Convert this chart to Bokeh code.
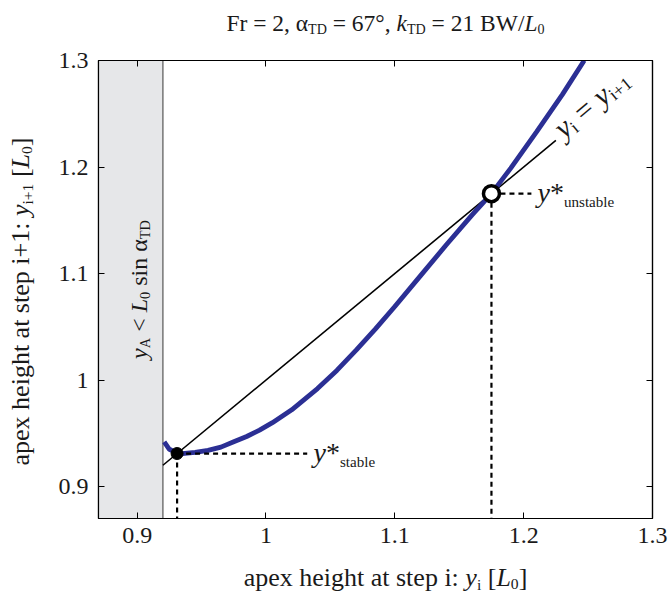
import math
from bokeh.plotting import figure
from bokeh.layouts import row, column
from bokeh.models import Range1d, Label, LinearAxis, FixedTicker
from bokeh.embed import file_html
from bokeh.resources import INLINE

# ---------------- data ----------------
tick_values = [0.9, 1.0, 1.1, 1.2, 1.3]
tick_labels = ["0.9", "1", "1.1", "1.2", "1.3"]

# return map y_{i+1} = f(y_i)
map_x = [0.921, 0.925, 0.930, 0.935, 0.945, 0.955, 0.965, 0.975, 0.985, 0.995,
         1.005, 1.020, 1.040, 1.055, 1.070, 1.085, 1.100, 1.120, 1.140,
         1.160, 1.175, 1.190, 1.210, 1.230, 1.247]
map_y = [0.942, 0.935, 0.932, 0.931, 0.932, 0.934, 0.937, 0.942, 0.947, 0.953,
         0.960, 0.972, 0.992, 1.009, 1.028, 1.048, 1.069, 1.098, 1.127,
         1.155, 1.175, 1.199, 1.233, 1.268, 1.300]

# identity line y_i = y_{i+1}
ident_x = [0.92, 1.225]
ident_y = [0.92, 1.225]

# infeasible region y_A < L0 sin(alpha_TD)
infeasible_left = 0.87
infeasible_right = 0.92

# fixed points
stable_pt = 0.931
unstable_pt = 1.175

# extents of guide lines (to label)
stable_guide_end = 1.032
unstable_guide_end = 1.206

XR = (0.87, 1.30)
YR = (0.87, 1.30)

# ---------------- layout (page pixels) ----------------
PAGE_W, PAGE_H = 670, 593
LEFT_W = 48          # y-label strip
TOP_H = 48           # title strip
BOT_H = 35           # x-label strip
MAIN_W = PAGE_W - LEFT_W
MAIN_H = PAGE_H - TOP_H - BOT_H
BL, BR, BT, BB = 50, 18, 12, 40
FRAME_L, FRAME_T = LEFT_W + BL, TOP_H + BT
FRAME_W = MAIN_W - BL - BR
FRAME_H = MAIN_H - BT - BB
FRAME_R, FRAME_B = FRAME_L + FRAME_W, FRAME_T + FRAME_H

p = figure(width=MAIN_W, height=MAIN_H, x_range=Range1d(*XR), y_range=Range1d(*YR),
           output_backend="svg", toolbar_location=None, title=None,
           min_border_left=BL, min_border_right=BR, min_border_top=BT, min_border_bottom=BB)
p.grid.visible = False
p.outline_line_color = "black"
p.outline_line_width = 1.2
p.background_fill_color = "white"
p.border_fill_color = "white"

overrides = {v: l for v, l in zip(tick_values, tick_labels)}


def style_axis(ax, labels=True, standoff=9):
    ax.ticker = FixedTicker(ticks=tick_values)
    ax.major_tick_in = 6
    ax.major_tick_out = 0
    ax.minor_tick_line_color = None
    ax.axis_line_color = "black"
    ax.axis_line_width = 1.2
    ax.major_tick_line_color = "black"
    ax.major_tick_line_width = 1
    if labels:
        ax.major_label_overrides = overrides
        ax.major_label_text_font = "Liberation Serif"
        ax.major_label_text_font_size = "24px"
        ax.major_label_text_color = "#1a1a1a"
        ax.major_label_standoff = standoff
    else:
        ax.major_label_text_font_size = "0px"
        ax.major_label_standoff = 0
        ax.major_label_text_alpha = 0


style_axis(p.xaxis[0], standoff=9)
style_axis(p.yaxis[0], standoff=10)
top_ax = LinearAxis()
right_ax = LinearAxis()
style_axis(top_ax, labels=False)
style_axis(right_ax, labels=False)
p.add_layout(top_ax, "above")
p.add_layout(right_ax, "right")

# ---------------- marks ----------------
p.quad(left=[infeasible_left], right=[infeasible_right], bottom=[YR[0]], top=[YR[1]],
       fill_color="#e6e7e9", line_color=None)
p.segment(x0=[infeasible_right], y0=[YR[0]], x1=[infeasible_right], y1=[YR[1]],
          line_color="#555555", line_width=1.2)
p.line(ident_x, ident_y, line_color="black", line_width=1.6)
p.line(map_x, map_y, line_color="#2b2f94", line_width=4.8)

dash = "5 4"
p.segment(x0=[stable_pt, unstable_pt], y0=[stable_pt, unstable_pt],
          x1=[stable_guide_end, unstable_guide_end], y1=[stable_pt, unstable_pt],
          line_color="black", line_width=2.2, line_dash=dash)
p.segment(x0=[stable_pt, unstable_pt], y0=[stable_pt, unstable_pt],
          x1=[stable_pt, unstable_pt], y1=[YR[0], YR[0]],
          line_color="black", line_width=2.2, line_dash=dash)

p.scatter([stable_pt], [stable_pt], size=12, fill_color="black", line_color="black")
p.scatter([unstable_pt], [unstable_pt], size=16, fill_color="white", line_color="black",
          line_width=3.5)


# ---------------- side strips for outer texts (ranges in page pixels) ----------------
def strip(w, h, xr, yr, bl=0, br=0, bt=0, bb=0):
    f = figure(width=w, height=h, x_range=Range1d(*xr), y_range=Range1d(*yr),
               output_backend="svg", toolbar_location=None, title=None,
               x_axis_type=None, y_axis_type=None,
               min_border_left=bl, min_border_right=br, min_border_top=bt, min_border_bottom=bb)
    f.outline_line_color = None
    f.grid.visible = False
    f.background_fill_color = "white"
    f.border_fill_color = "white"
    return f


# y ranges are reversed so that data y equals page y (downwards)
left_fig = strip(LEFT_W, PAGE_H, (0, LEFT_W), (FRAME_B, FRAME_T),
                 bt=FRAME_T, bb=PAGE_H - FRAME_B)
title_fig = strip(MAIN_W, TOP_H, (FRAME_L, FRAME_R), (TOP_H, 0), bl=BL, br=BR)
xlab_fig = strip(MAIN_W, BOT_H, (FRAME_L, FRAME_R), (PAGE_H, PAGE_H - BOT_H), bl=BL, br=BR)


def conv_main(xp, yp):
    x = XR[0] + (xp - FRAME_L) * (XR[1] - XR[0]) / FRAME_W
    y = YR[1] - (yp - FRAME_T) * (YR[1] - YR[0]) / FRAME_H
    return x, y


def conv_page(xp, yp):
    return xp, yp


# ---------------- rich text helper ----------------
REG = {'a': .444, 'b': .5, 'c': .444, 'd': .5, 'e': .444, 'f': .333, 'g': .5, 'h': .5,
       'i': .278, 'j': .278, 'k': .5, 'l': .278, 'm': .778, 'n': .5, 'o': .5, 'p': .5,
       'q': .5, 'r': .333, 's': .389, 't': .278, 'u': .5, 'v': .5, 'w': .722, 'x': .5,
       'y': .5, 'z': .444, ' ': .25, ':': .278, '+': .564, '[': .333, ']': .333,
       '=': .564, ',': .25, '°': .4, '/': .278, '<': .564, '*': .5, 'α': .52,
       'A': .722, 'B': .667, 'D': .722, 'F': .556, 'L': .611, 'T': .611, 'W': .944}
ITA = {'y': .444, 'L': .556, 'k': .444, '*': .5}
FONT = "Liberation Serif"
DESC = 0.22   # bokeh places the bottom of the text box on the anchor


def tw(s, italic):
    tbl = ITA if italic else REG
    return sum(tbl.get(ch, REG.get(ch, 0.5)) for ch in s)


def rich(fig, conv, x0, y0, pieces, size, angle_deg=0.0, anchor="left", color="#1a1a1a"):
    th = math.radians(angle_deg)
    c, s = math.cos(th), math.sin(th)
    total = sum(tw(t, it) * size * sc for t, it, sc, sh in pieces)
    adv = -total / 2 if anchor == "center" else 0.0
    xd, yd = conv(x0, y0)
    for t, it, sc, sh in pieces:
        fs = size * sc
        lead = len(t) - len(t.lstrip(' '))
        a = adv + lead * REG[' '] * fs
        body = t.strip(' ')
        dsh = sh * size - DESC * fs      # net downward shift in text frame
        ox = a * c + dsh * s
        oy = a * s - dsh * c
        if body:
            fig.add_layout(Label(x=xd, y=yd, x_offset=ox, y_offset=oy, text=body,
                                 angle=th, text_align="left", text_baseline="alphabetic",
                                 text_font=FONT, text_font_size=f"{fs:.1f}px",
                                 text_font_style="italic" if it else "normal",
                                 text_color=color))
        adv += tw(t, it) * fs


SUB = 0.6
SH = 0.17

# title
rich(title_fig, conv_page, 385, 28,
     [("Fr = 2, ", False, 1, 0), ("α", False, 1, 0), ("TD", False, SUB, SH),
      (" = 67°, ", False, 1, 0), ("k", True, 1, 0), ("TD", False, SUB, SH),
      (" = 21 BW/", False, 1, 0), ("L", True, 1, 0), ("0", False, SUB, SH)],
     23.5, anchor="center")

# x axis label
rich(xlab_fig, conv_page, 385, 583,
     [("apex height at step i: ", False, 1, 0), ("y", True, 1, 0),
      ("i", False, SUB, SH), (" [", False, 1, 0), ("L", True, 1, 0),
      ("0", False, SUB, SH), ("]", False, 1, 0)], 26, anchor="center")

# y axis label
rich(left_fig, conv_page, 26, 301,
     [("apex height at step i+1: ", False, 1, 0), ("y", True, 1, 0),
      ("i+1", False, SUB, SH), (" [", False, 1, 0), ("L", True, 1, 0),
      ("0", False, SUB, SH), ("]", False, 1, 0)], 26, angle_deg=90, anchor="center")

# infeasible region label
rich(p, conv_main, 144, 289,
     [("y", True, 1, 0), ("A", False, SUB, SH), (" < ", False, 1, 0),
      ("L", True, 1, 0), ("0", False, SUB, SH), (" sin ", False, 1, 0),
      ("α", False, 1, 0), ("TD", False, SUB, SH)], 24, angle_deg=90, anchor="center")

# identity line label
rich(p, conv_main, 561, 136,
     [("y", True, 1, 0), ("i", False, SUB, SH), (" = ", False, 1, 0),
      ("y", True, 1, 0), ("i+1", False, SUB, SH)], 30, angle_deg=40)

# fixed point labels
rich(p, conv_main, 313, 458,
     [("y", True, 1, 0), ("*", False, 1, 0), ("stable", False, 0.54, 0.25)], 28)
rich(p, conv_main, 537, 198,
     [("y", True, 1, 0), ("*", False, 1, 0), ("unstable", False, 0.54, 0.25)], 28)

layout = row(left_fig, column(title_fig, p, xlab_fig, spacing=0), spacing=0)

open("out.html", "w").write(file_html(layout, INLINE))
